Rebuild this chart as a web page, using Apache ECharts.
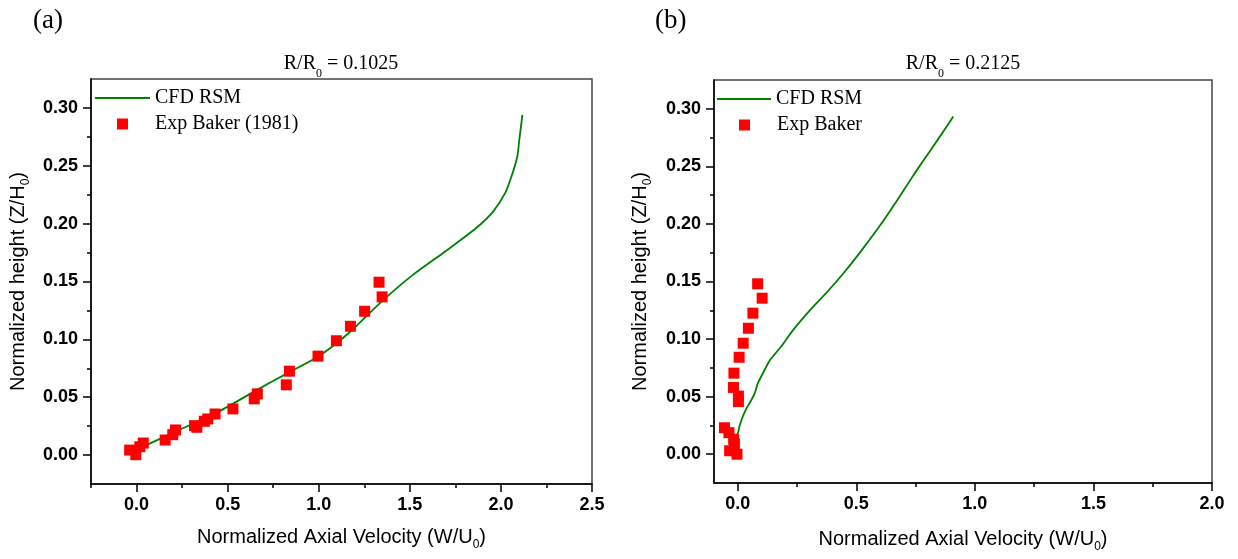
<!DOCTYPE html>
<html><head><meta charset="utf-8">
<script src="https://cdn.jsdelivr.net/npm/echarts@6/dist/echarts.min.js"></script>
<style>html,body{margin:0;padding:0;background:#fff}#c{width:1238px;height:559px}</style>
</head><body><div id="c"></div>
<script>
// ---------- data ----------
const cfdA = [[0.018,0.0066],[0.066,0.0095],[0.217,0.0205],[0.444,0.037],[0.671,0.0572],[0.822,0.0702],[0.993,0.0847],[1.106,0.0977],[1.201,0.1107],[1.333,0.1309],[1.503,0.154],[1.692,0.1757],[1.863,0.196],[1.957,0.2104],[2.023,0.2263],[2.061,0.2422],[2.09,0.258],[2.101,0.2725],[2.118,0.294]];
const expA = [[-0.038,0.0043],[-0.004,0.0003],[0.018,0.0072],[0.037,0.0104],[0.157,0.013],[0.199,0.0176],[0.214,0.0217],[0.318,0.0254],[0.331,0.024],[0.372,0.0292],[0.391,0.0312],[0.431,0.0355],[0.529,0.0399],[0.646,0.0486],[0.663,0.0529],[0.822,0.0607],[0.839,0.0725],[0.996,0.0855],[1.097,0.0988],[1.174,0.1113],[1.252,0.1243],[1.331,0.1494],[1.348,0.1367]];
const cfdB = [[-0.003,0.0165],[0.003,0.02],[0.007,0.024],[0.021,0.0325],[0.035,0.039],[0.049,0.044],[0.07,0.052],[0.085,0.0617],[0.11,0.0718],[0.135,0.0814],[0.183,0.0935],[0.234,0.108],[0.306,0.1254],[0.379,0.1413],[0.452,0.1587],[0.524,0.1775],[0.597,0.1977],[0.669,0.2195],[0.742,0.2426],[0.814,0.2643],[0.872,0.2817],[0.909,0.2933]];
const expB = [[-0.056,0.023],[-0.037,0.0187],[-0.017,0.013],[-0.014,0.009],[-0.034,0.003],[-0.003,0.0],[0.003,0.0457],[0.003,0.0505],[-0.018,0.058],[-0.016,0.0704],[0.006,0.0842],[0.023,0.0964],[0.045,0.1094],[0.064,0.1225],[0.084,0.148],[0.103,0.1355]];

const xMajorA = [0, 0.5, 1, 1.5, 2, 2.5];
const xMinorA = [-0.25, 0.25, 0.75, 1.25, 1.75, 2.25];
const xMajorB = [0, 0.5, 1, 1.5, 2];
const xMinorB = [0.25, 0.75, 1.25, 1.75];
const yMajor = [0, 0.05, 0.1, 0.15, 0.2, 0.25, 0.3];
const yMinor = [0.025, 0.075, 0.125, 0.175, 0.225, 0.275];

const panelLabels = ['(a)', '(b)'];
const radii = ['0.1025', '0.2125'];
const lineName = 'CFD RSM';
const expNames = ['Exp Baker (1981)', 'Exp Baker'];
const xName = 'Normalized Axial Velocity (W/U{s|0})';
const yName = 'Normalized height (Z/H{s|0})';

// ---------- styling ----------
const SANS = '"Liberation Sans", Arial, sans-serif';
const SERIF = '"Liberation Serif", "Times New Roman", serif';
const GREEN = '#008000', RED = '#ff0000';
const subRich = { s: { fontSize: 12, fontFamily: SANS, color: '#000', verticalAlign: 'bottom', lineHeight: 27 } };

function mainAxis(dim, gi, min, max, majors, name, gap, dec) {
  return {
    type: 'value', gridIndex: gi, min, max,
    position: dim === 'x' ? 'bottom' : 'left',
    axisLine: { show: true, onZero: false, lineStyle: { color: '#000', width: 1.5 } },
    axisTick: { show: true, inside: false, length: 8, customValues: majors, lineStyle: { color: '#000', width: 1.5 } },
    axisLabel: { show: true, customValues: majors, margin: dim === 'x' ? 12 : 13,
      formatter: v => Number(v).toFixed(dec), color: '#000', fontFamily: SANS, fontWeight: 'bold', fontSize: 18 },
    splitLine: { show: false },
    name, nameLocation: 'middle', nameGap: gap,
    nameTextStyle: { fontFamily: SANS, fontSize: 20, color: '#000', rich: subRich }
  };
}
function minorAxis(dim, gi, min, max, minors) {
  return {
    type: 'value', gridIndex: gi, min, max,
    position: dim === 'x' ? 'bottom' : 'left',
    axisLine: { show: false, onZero: false },
    axisTick: { show: true, inside: false, length: 4, customValues: minors, lineStyle: { color: '#000', width: 1.5 } },
    axisLabel: { show: false },
    splitLine: { show: false }
  };
}

const titleRich = {
  m: { fontFamily: SERIF, fontSize: 20, fontWeight: 'normal', color: '#000', verticalAlign: 'top', lineHeight: 20 },
  s: { fontFamily: SERIF, fontSize: 12, fontWeight: 'normal', color: '#000', verticalAlign: 'bottom', lineHeight: 26 }
};
const titleStyle = { fontWeight: 'normal', fontFamily: SERIF, rich: titleRich };

const chart = echarts.init(document.getElementById('c'), null, { renderer: 'canvas' });
chart.setOption({
  backgroundColor: '#fff',
  animation: false,
  title: [
    { text: panelLabels[0], left: 33, top: 7, padding: 0, textStyle: { fontFamily: SERIF, fontSize: 27, fontWeight: 'normal', color: '#000' } },
    { text: panelLabels[1], left: 655, top: 7, padding: 0, textStyle: { fontFamily: SERIF, fontSize: 27, fontWeight: 'normal', color: '#000' } },
    { text: '{m|R/R}{s|0}{m| = ' + radii[0] + '}', left: 341, top: 54, padding: 0, textAlign: 'center', textStyle: titleStyle },
    { text: '{m|R/R}{s|0}{m| = ' + radii[1] + '}', left: 963, top: 54, padding: 0, textAlign: 'center', textStyle: titleStyle }
  ],
  grid: [
    { left: 91, top: 79, width: 501, height: 405, show: true, borderColor: '#444', borderWidth: 1.5, backgroundColor: 'transparent' },
    { left: 714, top: 80, width: 498, height: 403, show: true, borderColor: '#444', borderWidth: 1.5, backgroundColor: 'transparent' }
  ],
  xAxis: [
    mainAxis('x', 0, -0.25, 2.5, xMajorA, xName, 40, 1),
    minorAxis('x', 0, -0.25, 2.5, xMinorA),
    mainAxis('x', 1, -0.1, 2.0, xMajorB, xName, 43, 1),
    minorAxis('x', 1, -0.1, 2.0, xMinorB)
  ],
  yAxis: [
    mainAxis('y', 0, -0.025, 0.325, yMajor, yName, 59, 2),
    minorAxis('y', 0, -0.025, 0.325, yMinor),
    mainAxis('y', 1, -0.025, 0.325, yMajor, yName, 60, 2),
    minorAxis('y', 1, -0.025, 0.325, yMinor)
  ],
  legend: [
    { left: 95, top: 88, padding: 0, itemWidth: 55, itemHeight: 2, icon: 'rect', selectedMode: false,
      data: [lineName], textStyle: { fontFamily: SERIF, fontSize: 20, color: '#000' } },
    { left: 117, top: 114, padding: 0, itemWidth: 11, itemHeight: 11, icon: 'rect', selectedMode: false,
      data: [expNames[0]], textStyle: { fontFamily: SERIF, fontSize: 20, color: '#000', padding: [0, 0, 0, 22] } },
    { left: 717, top: 89, padding: 0, itemWidth: 54, itemHeight: 2, icon: 'rect', selectedMode: false,
      data: [lineName], textStyle: { fontFamily: SERIF, fontSize: 20, color: '#000' } },
    { left: 739, top: 115, padding: 0, itemWidth: 11, itemHeight: 11, icon: 'rect', selectedMode: false,
      data: [expNames[1]], textStyle: { fontFamily: SERIF, fontSize: 20, color: '#000', padding: [0, 0, 0, 22] } }
  ],
  series: [
    { type: 'line', name: lineName, xAxisIndex: 0, yAxisIndex: 0, data: cfdA, showSymbol: false, symbol: 'none', smooth: 0.25,
      lineStyle: { color: GREEN, width: 1.8 }, itemStyle: { color: GREEN }, z: 2 },
    { type: 'scatter', name: expNames[0], xAxisIndex: 0, yAxisIndex: 0, data: expA, symbol: 'rect', symbolSize: 11,
      itemStyle: { color: RED, opacity: 1 }, z: 3 },
    { type: 'line', name: lineName, xAxisIndex: 2, yAxisIndex: 2, data: cfdB, showSymbol: false, symbol: 'none', smooth: 0.2,
      lineStyle: { color: GREEN, width: 1.8 }, itemStyle: { color: GREEN }, z: 2 },
    { type: 'scatter', name: expNames[1], xAxisIndex: 2, yAxisIndex: 2, data: expB, symbol: 'rect', symbolSize: 11,
      itemStyle: { color: RED, opacity: 1 }, z: 3 }
  ]
});
</script></body></html>
